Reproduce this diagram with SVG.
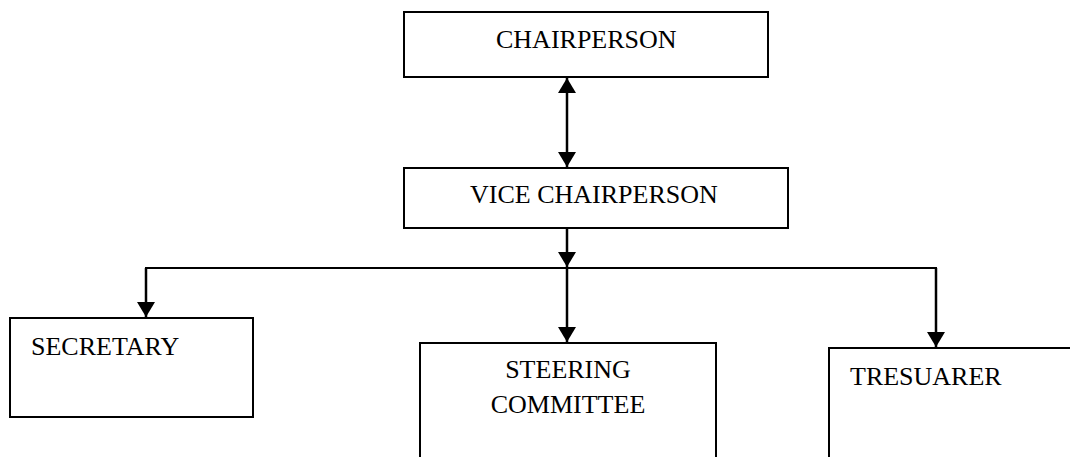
<svg xmlns="http://www.w3.org/2000/svg" width="1070" height="457" viewBox="0 0 1070 457">
<style>
.box{fill:#fff;stroke:#000;stroke-width:2}
.lbl{font-family:"Liberation Serif","Times New Roman",serif;font-size:26px;fill:#000}
.con{fill:none;stroke:#000;stroke-width:2.5}
.bus{fill:none;stroke:#000;stroke-width:2}
</style>
<defs>
<marker id="ah" markerUnits="userSpaceOnUse" markerWidth="16" markerHeight="18" viewBox="0 0 16 18" refX="15" refY="9" orient="auto-start-reverse">
<path d="M0,0 L15,9 L0,18 z" fill="#000"/>
</marker>
</defs>
<rect x="0" y="0" width="1070" height="457" fill="#fff"/>
<g id="connectors">
<line class="con" x1="567" y1="78" x2="567" y2="167" marker-start="url(#ah)" marker-end="url(#ah)"/>
<line class="con" x1="567" y1="228" x2="567" y2="267" marker-end="url(#ah)"/>
<polyline class="bus" points="146,300 146,268 936,268 936,300"/>
<line class="con" x1="146" y1="268" x2="146" y2="317" marker-end="url(#ah)"/>
<line class="con" x1="567" y1="268" x2="567" y2="342" marker-end="url(#ah)"/>
<line class="con" x1="936" y1="268" x2="936" y2="347" marker-end="url(#ah)"/>
</g>
<g id="chairperson">
<rect class="box" x="404" y="12" width="364" height="65"/>
<text class="lbl" x="496" y="48">CHAIRPERSON</text>
</g>
<g id="vice-chairperson">
<rect class="box" x="404" y="168" width="384" height="60"/>
<text class="lbl" x="470" y="203">VICE CHAIRPERSON</text>
</g>
<g id="secretary">
<rect class="box" x="10" y="318" width="243" height="99"/>
<text class="lbl" x="31" y="355">SECRETARY</text>
</g>
<g id="steering-committee">
<rect class="box" x="420" y="343" width="296" height="130"/>
<text class="lbl" x="568" y="378" text-anchor="middle">STEERING</text>
<text class="lbl" x="568" y="413" text-anchor="middle">COMMITTEE</text>
</g>
<g id="treasurer">
<rect class="box" x="829" y="348" width="260" height="130"/>
<text class="lbl" x="850" y="385">TRESUARER</text>
</g>
</svg>
